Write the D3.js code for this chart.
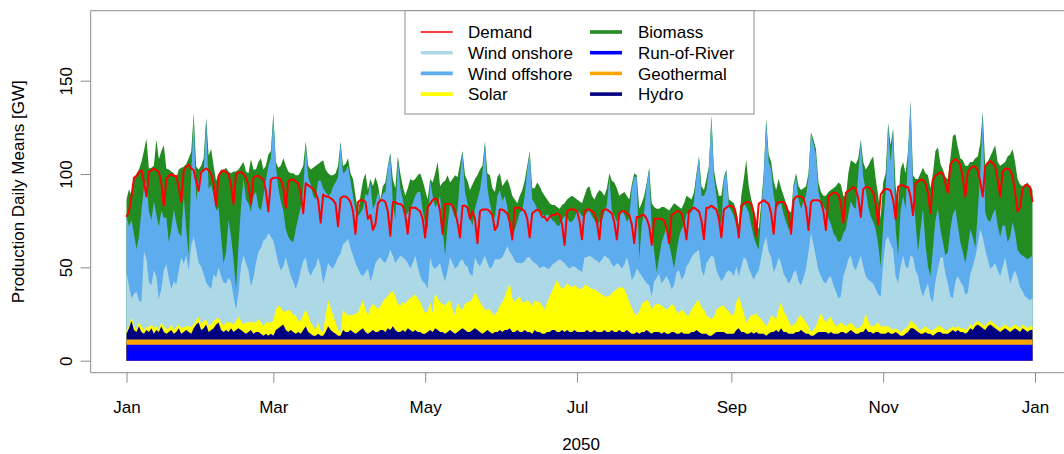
<!DOCTYPE html>
<html><head><meta charset="utf-8">
<script src="https://cdn.jsdelivr.net/npm/d3@7"></script>
<style>
body{margin:0;background:#fff}
svg text{font-family:"Liberation Sans",Arial,Helvetica,sans-serif;fill:#000}
</style>
</head><body>
<svg id="chart" width="1064" height="454"></svg>
<script>
// ---------------- data (daily means, GW, 2050-01-01 .. 2050-12-31) ----------------
const year = 2050;
const monthNames = ["Jan","Feb","Mar","Apr","May","Jun","Jul","Aug","Sep","Oct","Nov","Dec"];
const runOfRiver = [8.6,8.6,8.6,8.6,8.6,8.6,8.6,8.6,8.6,8.6,8.6,8.6];   // monthly
const geothermal = [2.8,2.8,2.8,2.8,2.8,2.8,2.8,2.8,2.8,2.8,2.8,2.8];   // monthly
const hydro = [
3,6,10,5,4,7,4,3,5,4, 6,3,5,4,7,4,3,4,5,3, 4,6,3,4,5,4,3,6,8,9, 5,6,8,4,5,6,8,9,5,4, 5,4,6,4,5,6,5,4,3,4, 5,3,4,4,3,2,3,2,3,2,
5,6,7,8,5,4,5,4,3,4, 3,5,7,4,3,2,2,3,2,2, 4,7,5,4,3,2,2,5,4,4, 5,4,3,4,5,6,4,3,4,5, 4,4,5,5,4,6,5,7,5,4, 4,5,4,6,5,4,5,4,4,3, 3,4,
5,4,6,5,4,4,3,4,5,4, 3,4,5,6,5,4,4,5,6,5, 4,3,4,5,4,3,4,4,5,4, 5,5,6,4,4,5,4,4,5,4, 4,3,5,4,4,3,3,4,4,5, 5,4,4,5,4,5,4,4,5,4, 4,4,
4,5,4,4,5,4,4,4,5,4, 4,5,4,4,5,4,4,5,4,3, 3,4,3,4,4,5,4,3,4,4, 4,3,4,3,3,4,4,3,3,4, 3,3,3,4,4,5,4,3,3,3, 2,2,3,4,4,4,4,3,3,3, 3,
5,6,4,4,3,3,4,3,4,3, 3,3,2,3,4,4,5,4,6,4, 4,3,3,3,4,4,5,4,3,3, 2,2,3,4,4,4,4,3,4,3, 3,3,4,4,3,4,5,4,3,3, 4,4,6,4,4,3,4,4,3,3, 3,
4,3,3,4,3,2,2,3,4,6, 6,5,4,3,3,4,3,3,2,3, 4,4,3,3,3,4,5,4,5,4, 4,3,4,6,5,7,8,7,6,5, 7,8,7,6,5,4,5,6,5,4, 5,6,5,4,6,5,4,5,5];
const solar = [
2,1.5,2,2.5,1.5,2,3,2,1.5,2.5, 2,3,2,1.5,2,3,2.5,2,3,2, 2.5,2,3,2.5,2,3,3.5,2,2.5,3, 3,4,2.5,3.5,3,4,3,2.5,4,3.5, 4,5,3,4,5,6,5,4,6,5, 4.5,6,5,7,6,5,6,7,6,8,
11,12,10,7,10,12,10,9,10,6, 7,8,9,9,6,5,3,6,3,2, 9,14,12,9,6,3,2,11,10,9, 8,9,11,10,13,15,12,10,13,14, 14,12,13,15,18,17,20,19,18,15, 14,15,15,15,17,19,19,18,16,14, 11,11,
15,10,19,17,16,15,15,16,16,12, 10,16,12,10,14,16,16,17,19,18, 16,15,12,11,12,11,9,11,13,16, 18,22,24,18,16,17,19,16,15,17, 16,15,16,16,16,15,13,16,19,21, 24,28,25,22,24,25,25,24,24,24, 23,23,
25,24,24,23,22,22,21,20,18,19, 19,20,22,23,23,24,23,19,16,14, 11,9,12,15,16,16,16,13,14,15, 15,15,13,13,14,15,14,12,11,12, 12,10,10,12,14,15,17,14,13,10, 10,9,9,12,13,14,14,13,12,10, 10,
15,17,15,10,6,8,9,10,10,9, 8,6,5,6,9,8,6,12,14,11, 9,7,4,5,5,8,8,7,6,4, 2,3,4,7,10,7,5,8,8,6, 4,5,5,4,4,4,4,4,3,3, 3,5,8,6,3,4,4,5,4,4, 4,
3,3,2,2,2,2,3,3,3,4, 3,3,2,2,3,3,3,2,3,3, 3,3,3,2,2,2,2,2,2,2, 2,2,2,2,2,2,2,2,2,2, 2,2,2,2,2,2,2,2,2,2, 2,2,2,2,2,2,2,2,2];
const windOnshore = [
31,21,10,17,20,12,13,42,37,24, 21,31,27,16,18,30,35,27,19,26, 23,29,38,34,38,30,44,47,38,29, 31,25,20,21,19,25,22,27,25,23, 21,24,22,15,6,13,29,37,32,28, 19,24,32,36,40,46,45,48,46,43,
31,23,20,24,29,23,19,18,14,21, 27,29,28,24,25,30,34,35,34,26, 22,20,22,25,32,39,42,35,38,41, 36,32,27,24,17,13,20,25,14,16, 23,27,26,22,19,21,23,19,18,24, 27,24,24,20,16,18,21,17,14,14, 16,12,
24,25,13,17,21,16,13,17,23,25, 25,19,25,27,21,19,15,12,19,18, 19,24,29,25,22,25,30,28,25,24, 24,23,17,23,22,19,18,21,22,23, 24,24,20,20,18,21,23,18,15,14, 12,10,14,15,13,9,9,11,10,10, 10,9,
15,15,17,17,16,16,16,19,22,21, 20,15,13,14,12,10,13,20,19,15, 20,25,21,15,12,9,9,7,13,14, 16,12,15,18,14,8,11,21,23,16, 19,26,28,28,28,27,27,20,18,28, 31,34,32,21,17,13,15,20,22,23, 21,
19,11,20,30,34,27,22,19,21,25, 33,42,48,38,31,24,28,28,21,20, 20,20,25,28,28,19,16,22,29,40, 53,46,37,26,20,20,21,22,22,20, 19,14,14,26,31,35,36,31,31,35, 38,30,20,22,24,23,19,15,16,34, 46,
48,45,43,28,25,35,40,33,31,35, 35,29,28,22,17,20,24,17,15,25, 31,37,38,30,25,17,15,25,27,25, 23,19,19,27,32,35,41,50,47,41, 34,28,30,33,30,28,32,36,30,24, 27,29,26,22,18,16,16,14,15];
const windOffshore = [
30,32,42,32,23,34,49,34,41,38, 35,37,33,39,42,28,25,19,32,39, 33,20,11,36,14,8,38,65,26,44, 52,54,87,52,56,42,36,32,21,10, 17,31,24,20,11,26,32,41,34,36, 40,44,38,24,20,24,31,36,42,67,
46,40,37,30,15,16,19,21,32,34, 34,38,61,50,49,40,36,41,46,51, 44,36,39,44,43,43,59,38,38,39, 36,32,28,28,33,36,42,39,53,35, 32,36,30,36,38,48,51,28,23,54, 36,31,23,27,32,32,32,40,45,38, 32,32,
41,38,33,34,36,24,14,24,29,28, 27,30,45,57,39,34,30,27,26,34, 41,47,60,40,35,28,22,34,37,30, 30,21,12,10,17,22,27,28,35,47, 56,33,32,30,30,28,27,29,28,24, 22,19,18,22,25,26,25,24,26,31, 31,30,
22,24,24,22,21,19,22,21,23,28, 44,29,27,22,25,31,27,19,26,49, 53,49,7,27,37,53,62,36,16,3, 9,22,24,27,20,18,9,11,18,27, 27,28,27,24,28,41,49,40,43,39, 49,74,43,40,31,30,53,54,34,33, 32,
22,23,26,29,28,30,26,23,16,11, 24,36,62,48,47,41,31,28,32,32, 30,29,29,45,50,44,41,41,39,40, 53,54,55,42,39,40,39,32,28,28, 29,30,30,23,21,24,29,32,33,48, 61,48,46,39,35,33,32,27,16,20, 26,
60,44,64,25,15,30,32,31,61,82, 37,26,13,32,47,24,9,12,29,33, 32,15,8,10,17,36,45,39,27,21, 18,17,24,24,16,5,17,30,66,20, 21,25,28,29,24,21,22,17,15,25, 29,20,15,18,19,21,21,23,23];
const biomass = [
9,20,13,29,40,36,26,20,23,23, 28,19,40,36,32,39,26,39,31,19, 24,34,37,16,35,52,12,1,18,6, 2,8,1,18,19,16,16,18,36,50, 45,26,34,47,63,40,22,9,15,16, 28,14,12,24,28,14,8,6,4,1,
2,11,19,28,34,35,36,37,29,23, 19,13,1,6,8,15,18,9,10,15, 12,12,10,6,5,6,1,4,4,4, 4,9,8,2,9,15,11,3,2,12, 14,4,1,4,5,1,1,13,17,1, 8,7,11,13,16,12,9,9,10,16, 18,16,
1,7,18,22,5,25,40,27,11,17, 23,18,7,1,9,12,15,22,16,13, 11,4,1,8,15,14,14,10,9,8, 7,15,23,22,16,10,9,11,8,2, 1,6,8,14,14,12,11,8,7,8, 9,10,9,8,7,10,13,14,11,6, 6,7,
11,13,13,11,11,17,17,15,9,9, 2,16,18,18,12,9,12,14,10,2, 2,1,27,12,8,1,1,14,24,34, 26,19,15,9,18,26,35,25,16,11, 12,10,8,7,5,1,1,5,3,6, 1,1,4,6,12,16,1,1,4,5, 7,
8,4,12,13,25,14,14,15,13,11, 5,2,1,4,4,8,10,14,8,10, 10,10,7,2,2,7,10,7,5,2, 1,2,3,5,6,6,8,14,18,24, 27,32,30,20,17,22,22,24,24,8, 1,8,11,22,30,35,27,26,26,23, 10,
1,9,1,23,28,22,18,19,2,1, 7,23,39,30,22,38,49,47,40,37, 33,35,39,42,39,38,42,40,42,45, 49,52,44,36,40,48,30,16,1,25, 31,35,34,34,34,38,33,34,46,44, 39,38,38,37,37,39,41,38,35];
const demand = [
77,80,
88,98,99,101,102,96,88, 101,102,103,102,101,95,83, 97,99,100,99,99,93,85, 102,104,105,103,102,96,91,
101,102,103,102,100,95,83, 99,101,102,101,100,94,84, 100,101,101,100,98,94,84, 98,99,99,98,97,91,80,
97,98,98,98,97,93,82, 96,97,97,96,95,90,79, 95,94,93,92,90,86,74, 89,88,88,87,86,84,72,
87,88,88,87,85,80,68, 85,86,86,85,76,78,70, 73,84,86,86,85,80,67, 85,85,84,84,83,78,68,
82,82,82,81,80,76,66, 82,84,86,87,86,80,68, 84,84,84,83,80,74,66, 83,83,82,76,80,76,63,
80,81,81,81,80,78,70, 72,81,81,80,79,74,65, 82,82,82,81,80,76,66, 79,80,81,80,77,77,75,
77,78,78,79,78,73,62, 80,81,81,81,80,75,65, 80,81,81,80,79,74,65, 80,81,81,80,79,74,65,
79,80,80,79,78,73,63, 77,77,78,78,76,72,62, 76,76,76,76,75,71,63, 78,79,80,80,79,74,65,
80,81,82,81,80,75,65, 82,82,83,82,81,76,66, 81,82,83,83,82,77,66, 83,84,85,85,84,79,67,
84,85,86,85,84,79,68, 84,85,85,85,83,79,68, 86,88,88,88,87,82,70, 85,86,86,86,85,80,70,
88,89,90,90,89,84,74, 90,91,92,93,92,87,77, 92,93,93,92,90,84,73, 89,91,92,92,91,86,76,
93,94,94,93,93,88,78, 95,96,97,97,95,90,79, 97,99,100,101,100,95,90, 105,107,108,107,105,98,88,
101,103,104,104,102,96,88, 104,106,107,106,104,97,88, 101,103,103,102,99,90,80,
82,92,94,94,93,85];

const tickLabels = ["Jan","Mar","May","Jul","Sep","Nov","Jan"];
const tickDates = [[2050,0],[2050,2],[2050,4],[2050,6],[2050,8],[2050,10],[2051,0]];
const yTicks = [0,50,100,150];
const xTitle = "2050";
const yTitle = "Production Daily Means [GW]";

// stacking order bottom -> top, with colours
const layers = [
  {key:"Run-of-River", color:"#0000FF"},
  {key:"Geothermal",   color:"#FFA500"},
  {key:"Hydro",        color:"#000080"},
  {key:"Solar",        color:"#FFFF00"},
  {key:"Wind onshore", color:"#ADD8E6"},
  {key:"Wind offshore",color:"#5CACEE"},
  {key:"Biomass",      color:"#228B22"}
];
const legendCol1 = [
  {key:"Demand", color:"#FF0000", w:1.3},
  {key:"Wind onshore", color:"#ADD8E6", w:3.6},
  {key:"Wind offshore", color:"#5CACEE", w:3.6},
  {key:"Solar", color:"#FFFF00", w:3.6}
];
const legendCol2 = [
  {key:"Biomass", color:"#228B22", w:3.6},
  {key:"Run-of-River", color:"#0000FF", w:3.6},
  {key:"Geothermal", color:"#FFA500", w:3.6},
  {key:"Hydro", color:"#000080", w:3.6}
];

// ---------------- build table ----------------
const rows = demand.map((dm, i) => {
  const date = new Date(Date.UTC(year, 0, 1 + i));
  const m = date.getUTCMonth();
  return {
    date,
    "Run-of-River": runOfRiver[m],
    "Geothermal": geothermal[m],
    "Hydro": hydro[i],
    "Solar": solar[i],
    "Wind onshore": windOnshore[i],
    "Wind offshore": windOffshore[i],
    "Biomass": biomass[i],
    "Demand": dm
  };
});

// ---------------- layout ----------------
const svg = d3.select("#chart");
const box = {left: 90.7, top: 10.7, bottom: 372.7, right: 1071.4};

const x = d3.scaleUtc()
  .domain([Date.UTC(2050,0,1), Date.UTC(2051,0,1)])
  .range([126.5, 1035]);
const y = d3.scaleLinear().domain([0,150]).range([360.7, 80.7]);

const stacked = d3.stack().keys(layers.map(l => l.key))(rows);

// draw from top layer down, each filled from zero so no seams appear between bands
const gArea = svg.append("g");
for (let i = stacked.length - 1; i >= 0; i--) {
  const s = stacked[i];
  const area = d3.area()
    .x(d => x(d.data.date))
    .y0(y(0))
    .y1(d => y(d[1]));
  gArea.append("path")
    .datum(s)
    .attr("fill", layers[i].color)
    .attr("d", area);
}

// demand line
svg.append("path")
  .datum(rows)
  .attr("fill", "none")
  .attr("stroke", "#FF0000")
  .attr("stroke-width", 2)
  .attr("stroke-linejoin", "round")
  .attr("d", d3.line().x(d => x(d.date)).y(d => y(d.Demand)));

// box (right side lies outside the window)
svg.append("path")
  .attr("fill", "none")
  .attr("stroke", "#8c8c8c")
  .attr("stroke-width", 1)
  .attr("d", `M${box.right},${box.top}H${box.left}V${box.bottom}H${box.right}`);

// x axis
const xAxis = d3.axisBottom(x)
  .tickValues(tickDates.map(([yy, mm]) => new Date(Date.UTC(yy, mm, 1))))
  .tickFormat((d, i) => tickLabels[i])
  .tickSize(10);
const gx = svg.append("g").attr("transform", `translate(0,${box.bottom})`).call(xAxis);
gx.select(".domain").remove();
gx.selectAll(".tick line").attr("stroke", "#8c8c8c");
gx.selectAll(".tick text")
  .attr("y", 40.5).attr("dy", 0)
  .style("font-size", "17px")
  .attr("fill", "#000");

// y axis
const yAxis = d3.axisLeft(y).tickValues(yTicks).tickFormat(d3.format("d")).tickSize(10);
const gy = svg.append("g").attr("transform", `translate(${box.left},0)`).call(yAxis);
gy.select(".domain").remove();
gy.selectAll(".tick line").attr("stroke", "#8c8c8c");
gy.selectAll(".tick text")
  .attr("x", null).attr("dy", null)
  .attr("transform", "translate(-18.7,0) rotate(-90)")
  .attr("text-anchor", "middle")
  .style("font-size", "17px")
  .attr("fill", "#000");

// titles
svg.append("text")
  .attr("x", (box.left + box.right) / 2).attr("y", 450)
  .attr("text-anchor", "middle").style("font-size", "17px")
  .text(xTitle);
svg.append("text")
  .attr("transform", `translate(24,${(box.top + box.bottom) / 2}) rotate(-90)`)
  .attr("text-anchor", "middle").style("font-size", "17px")
  .text(yTitle);

// legend
const lg = svg.append("g");
lg.append("rect")
  .attr("x", 405).attr("y", box.top).attr("width", 349).attr("height", 103.3)
  .attr("fill", "#fff").attr("stroke", "#8c8c8c");
const rowY = [32, 52.7, 73.4, 94.1];
[[legendCol1, 420.7, 468], [legendCol2, 590, 638]].forEach(([items, lx, tx]) => {
  items.forEach((it, i) => {
    lg.append("line")
      .attr("x1", lx).attr("x2", lx + 32)
      .attr("y1", rowY[i]).attr("y2", rowY[i])
      .attr("stroke", it.color).attr("stroke-width", it.w);
    lg.append("text")
      .attr("x", tx).attr("y", rowY[i] + 6.3)
      .style("font-size", "17px")
      .text(it.key);
  });
});
</script>
</body></html>
